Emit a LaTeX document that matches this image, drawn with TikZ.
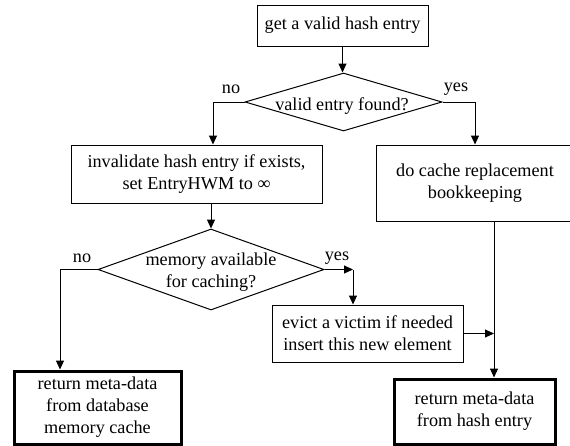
\documentclass[tikz,border=0pt]{standalone}
\usepackage{fontspec}
\setmainfont{Liberation Serif}
\usetikzlibrary{arrows.meta,shapes.geometric}

\tikzset{
  every node/.style={font=\fontsize{18.2}{22}\selectfont},
  procbox/.style={draw, line width=1pt, rectangle, inner sep=0pt, align=center},
  endbox/.style={procbox, line width=3pt},
  decision/.style={draw, line width=1pt, diamond, inner sep=0pt},
  label/.style={inner sep=0pt, align=center},
  arr/.style={line width=1pt, -{Triangle[length=9pt,width=8pt]}},
}

\begin{document}
\begin{tikzpicture}[x=1pt,y=-1pt]
  \useasboundingbox (0,0) rectangle (570,445);
  \clip (0,0) rectangle (570,445);

  % boxes
  \node[procbox, minimum width=171pt, minimum height=41pt] (top) at (342.5,25.5) {get a valid hash entry};
  \node[decision, minimum width=197pt, minimum height=58pt] (d1) at (343.5,102) {};
  \node[label] (d1text) at (342,106) {valid entry found?};

  \node[procbox, minimum width=251pt, minimum height=58pt] (inv) at (196.5,174)
    {invalidate hash entry if exists,\\set EntryHWM to ∞};
  \node[procbox, minimum width=198pt, minimum height=76pt] (cache) at (475,183)
    {do cache replacement\\bookkeeping};

  \node[decision, minimum width=226pt, minimum height=81pt] (d2) at (211,269.5) {};
  \node[label] (d2text) at (211,272) {memory available\\for caching?};

  \node[procbox, minimum width=191pt, minimum height=57pt] (ev) at (367.5,333.5)
    {evict a victim if needed\\insert this new element};

  \node[endbox, minimum width=167pt, minimum height=73pt] (ret1) at (97.5,407.5)
    {return meta-data\\from database\\memory cache};
  \node[endbox, minimum width=161pt, minimum height=65pt] (ret2) at (474.5,411.5)
    {return meta-data\\from hash entry};

  % branch labels
  \node[label] (no1) at (231,89) {no};
  \node[label] (yes1) at (456,89) {yes};
  \node[label] (no2) at (82,258) {no};
  \node[label] (yes2) at (337,258) {yes};

  % helper points
  \coordinate (ybend) at (353,269.5);
  \coordinate (merge) at ([xshift=19pt]cache.south);

  % connectors
  \draw[arr] (top.south) -- (top.south |- d1.north);
  \draw[arr] (d1.west) -| ([xshift=16.5pt]inv.north);
  \draw[arr] (d1.east) -| (cache.north);
  \draw[arr] (d2.north |- inv.south) -- (d2.north);
  \draw[arr] (d2.west) -| ([xshift=-37.5pt]ret1.north);
  \draw[arr] (d2.east) -- (ybend);
  \draw[arr] (ybend) -- (ybend |- ev.north);
  \draw[arr] (merge) -- (merge |- ret2.north);
  \draw[arr] (ev.east) -- (ev.east -| merge);
\end{tikzpicture}
\end{document}
